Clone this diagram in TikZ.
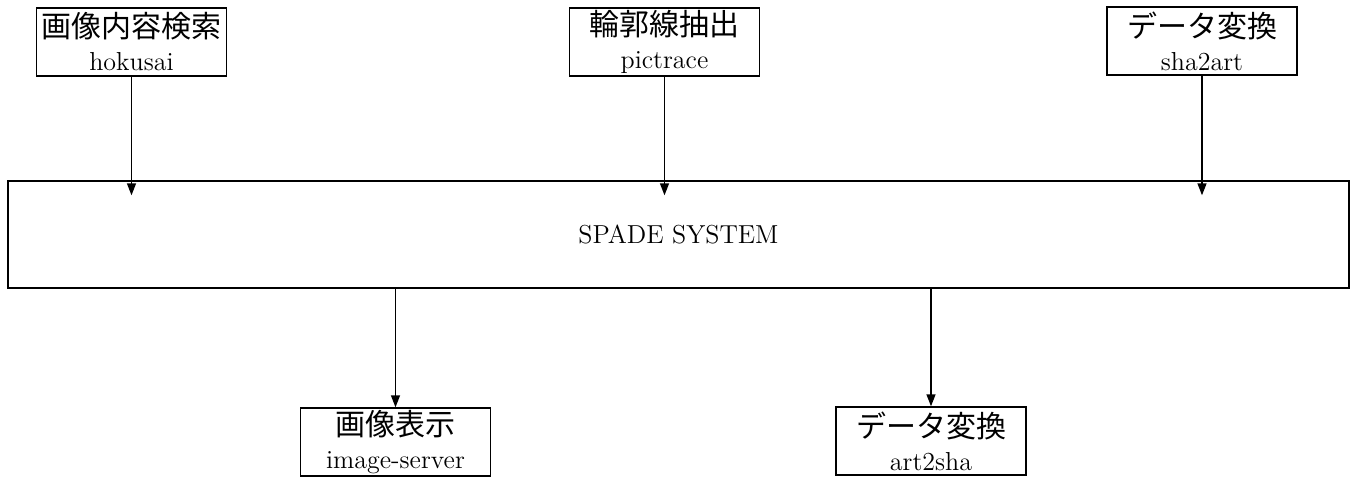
\documentclass[tikz,border=0pt]{standalone}
\usepackage{fontspec}
\newfontfamily\cjk{Noto Sans CJK JP}
\usetikzlibrary{arrows.meta,calc}
\begin{document}
\begin{tikzpicture}[x=0.5pt,y=-0.5pt,
  prog/.style={draw, line width=0.7pt, minimum width=95pt, minimum height=34pt, align=center,
    inner sep=1pt, font=\fontsize{13}{16.5}\selectfont},
  jp/.style={font=\cjk\fontsize{15}{15}\selectfont},
  arr/.style={draw, line width=0.7pt, -{Triangle[length=6pt,width=4.5pt]}}]
\useasboundingbox (0,0) rectangle (1354,482);
\node[draw, line width=0.7pt, minimum width=670.5pt, minimum height=53.5pt, inner sep=0pt,
  font=\fontsize{13}{15}\selectfont] (sys) at (678.5,234.5) {SPADE SYSTEM};
\node[prog] (hok) at (131.5,42) {{\cjk\fontsize{15}{15}\selectfont 画像内容検索}\\hokusai};
\node[prog] (pic) at (664.5,42) {{\cjk\fontsize{15}{15}\selectfont 輪郭線抽出}\\pictrace};
\node[prog] (s2a) at (1202,41) {{\cjk\fontsize{15}{15}\selectfont データ変換}\\sha2art};
\node[prog] (img) at (395.5,442) {{\cjk\fontsize{15}{15}\selectfont 画像表示}\\image-server};
\node[prog] (a2s) at (931,441) {{\cjk\fontsize{15}{15}\selectfont データ変換}\\art2sha};
\draw[arr] (hok.south) -- ($(hok.south |- sys.north)+(0,15)$);
\draw[arr] (pic.south) -- ($(pic.south |- sys.north)+(0,15)$);
\draw[arr] (s2a.south) -- ($(s2a.south |- sys.north)+(0,15)$);
\draw[arr] (img.north |- sys.south) -- (img.north);
\draw[arr] (a2s.north |- sys.south) -- (a2s.north);
\end{tikzpicture}
\end{document}
